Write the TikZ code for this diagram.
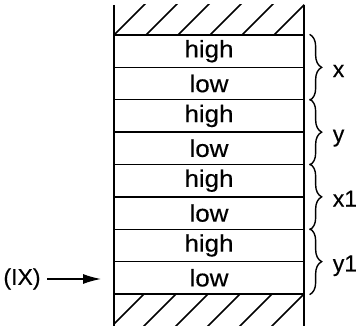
\documentclass[tikz,border=0pt]{standalone}
\usepackage{fontspec}
\setmainfont{Liberation Sans}[FakeStretch=1.08, FakeBold=0.4]
\newfontfamily\labelfont{Liberation Sans}[FakeBold=0.4]
\usetikzlibrary{arrows.meta,decorations.pathreplacing}
\tikzset{
  cell/.style={draw, rectangle, inner sep=0pt, minimum width=190pt,
    minimum height=32.375pt, font=\fontsize{24}{28}\selectfont},
  lbl/.style={font=\labelfont\fontsize{23}{27}\selectfont, inner sep=0pt, anchor=base west},
  grp/.style={decorate, decoration={brace, amplitude=12pt}, line width=1.4pt},
  hatch/.style={line width=1.5pt},
}
\begin{document}
\begin{tikzpicture}[x=1pt, y=-1pt, line width=1.3pt]
  \useasboundingbox (0,0) rectangle (356,326);
  % stack of memory cells
  \foreach \t [count=\i] in {high,low,high,low,high,low,high,low}
    \node[cell] (r\i) at (209, {35 + 32.375*(\i-0.5)}) {\t};
  % side walls
  \draw (114,5) -- (114,326);
  \draw (304,5) -- (304,326);
  % hatched ends
  \begin{scope}
    \clip (114,5) rectangle (304,35);
    \foreach \k in {0,...,5}
      \draw[hatch] ({114+32*\k},35) -- ({114+32*\k+32},3);
  \end{scope}
  \begin{scope}
    \clip (114,294) rectangle (304,328);
    \foreach \k in {0,...,5}
      \draw[hatch] ({304-32*\k},294) -- ({304-32*\k-34},328);
  \end{scope}
  % braces grouping pairs of cells
  \foreach \a/\b/\n in {1/2/x, 3/4/y, 5/6/x1, 7/8/y1} {
    \draw[grp] ([xshift=5pt]r\a.north east) -- ([xshift=5pt]r\b.south east)
      coordinate[pos=0.5] (m\a);
    \node[lbl] (g\a) at ([xshift=27.5pt, yshift=-9pt]r\a.south east) {\n};
  }
  % pointer
  \node[font=\labelfont\fontsize{23}{27}\selectfont, inner sep=0pt] (ix) at (22,279) {(IX)};
  \coordinate (tip) at (101,279);
  \draw[-{Latex[length=18pt,width=10pt]}] ([xshift=6pt]ix.east) -- (tip);
\end{tikzpicture}
\end{document}
